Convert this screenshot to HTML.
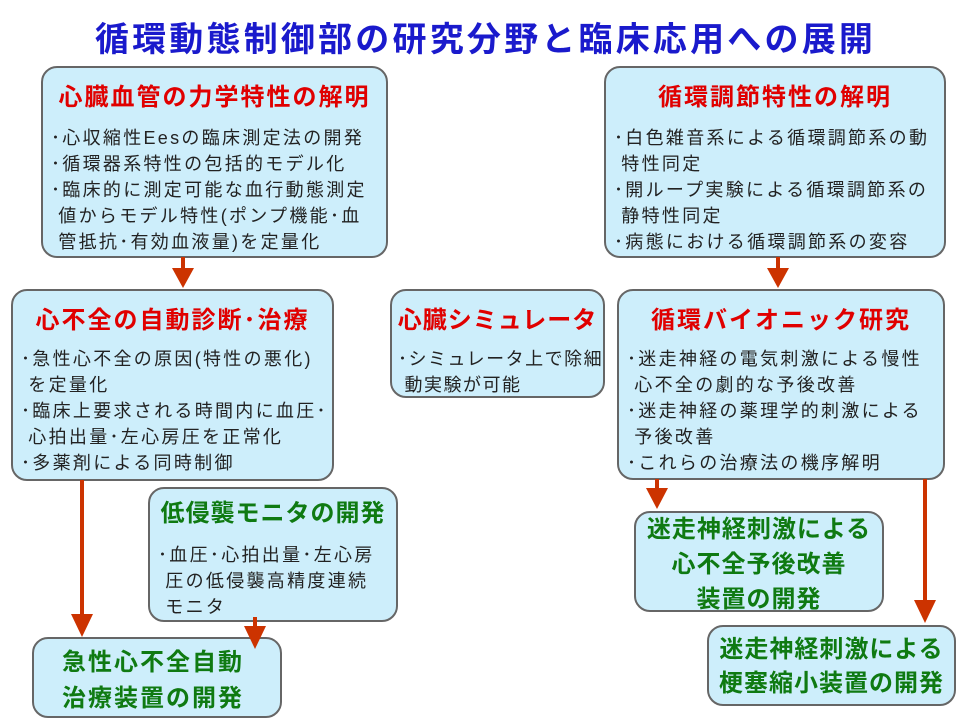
<!DOCTYPE html>
<html><head><meta charset="utf-8"><style>
body{margin:0;width:971px;height:728px;background:#fff;position:relative;overflow:hidden;font-family:"Liberation Sans","Noto Sans CJK JP",sans-serif;}
.t{position:absolute;left:0;width:971px;top:14px;text-align:center;color:#1a1acc;font-weight:bold;font-size:34px;line-height:52px;letter-spacing:3.2px;}
.b{position:absolute;background:#cdeefb;border:2px solid #666;border-radius:16px;box-sizing:border-box;}
.h{position:absolute;left:-20px;right:-20px;text-align:center;font-weight:bold;font-size:24px;line-height:30px;white-space:nowrap;letter-spacing:2px;}
.r{color:#e00000}.g{color:#0f7a12}
.p{position:absolute;font-size:18px;line-height:26px;color:#222;white-space:nowrap;letter-spacing:2.3px;}
.G{position:absolute;left:-20px;right:-20px;text-align:center;color:#0f7a12;font-weight:bold;font-size:24px;letter-spacing:2px;}
svg{position:absolute;left:0;top:0;}
</style></head><body>
<div class="t">循環動態制御部の研究分野と臨床応用への展開</div>

<div class="b" style="left:41px;top:66px;width:347px;height:192px">
<div class="h r" style="top:15px">心臓血管の力学特性の解明</div>
<div class="p" style="left:8px;top:57px">･心収縮性Eesの臨床測定法の開発<br>･循環器系特性の包括的モデル化<br>･臨床的に測定可能な血行動態測定<br>&nbsp;値からモデル特性(ポンプ機能･血<br>&nbsp;管抵抗･有効血液量)を定量化</div>
</div>

<div class="b" style="left:604px;top:66px;width:342px;height:192px">
<div class="h r" style="top:15px">循環調節特性の解明</div>
<div class="p" style="left:8px;top:57px">･白色雑音系による循環調節系の動<br>&nbsp;特性同定<br>･開ループ実験による循環調節系の<br>&nbsp;静特性同定<br>･病態における循環調節系の変容</div>
</div>

<div class="b" style="left:11px;top:289px;width:323px;height:192px">
<div class="h r" style="top:15px">心不全の自動診断･治療</div>
<div class="p" style="left:8px;top:55px">･急性心不全の原因(特性の悪化)<br>&nbsp;を定量化<br>･臨床上要求される時間内に血圧･<br>&nbsp;心拍出量･左心房圧を正常化<br>･多薬剤による同時制御</div>
</div>

<div class="b" style="left:390px;top:289px;width:215px;height:109px">
<div class="h r" style="top:15px;letter-spacing:1px">心臓シミュレータ</div>
<div class="p" style="left:6px;top:55px;letter-spacing:1.5px">･シミュレータ上で除細<br>&nbsp;動実験が可能</div>
</div>

<div class="b" style="left:617px;top:289px;width:328px;height:191px">
<div class="h r" style="top:15px">循環バイオニック研究</div>
<div class="p" style="left:8px;top:55px">･迷走神経の電気刺激による慢性<br>&nbsp;心不全の劇的な予後改善<br>･迷走神経の薬理学的刺激による<br>&nbsp;予後改善<br>･これらの治療法の機序解明</div>
</div>

<div class="b" style="left:148px;top:487px;width:250px;height:135px">
<div class="h g" style="top:10px;letter-spacing:1px">低侵襲モニタの開発</div>
<div class="p" style="left:8px;top:53px">･血圧･心拍出量･左心房<br>&nbsp;圧の低侵襲高精度連続<br>&nbsp;モニタ</div>
</div>

<div class="b" style="left:32px;top:637px;width:250px;height:81px">
<div class="G" style="top:6px;line-height:36px;left:-28px">急性心不全自動<br>治療装置の開発</div>
</div>

<div class="b" style="left:634px;top:511px;width:250px;height:101px">
<div class="G" style="top:-1px;line-height:35px;letter-spacing:1px">迷走神経刺激による<br>心不全予後改善<br>装置の開発</div>
</div>

<div class="b" style="left:707px;top:625px;width:249px;height:81px">
<div class="G" style="top:6px;line-height:34px;letter-spacing:1px">迷走神経刺激による<br>梗塞縮小装置の開発</div>
</div>

<svg width="971" height="728">
<g fill="#cc3300" stroke="none">
<rect x="181" y="257" width="4" height="12"/><polygon points="172,268 194,268 183,288"/>
<rect x="776" y="257" width="4" height="12"/><polygon points="767,268 789,268 778,288"/>
<rect x="80" y="480" width="4" height="135"/><polygon points="71,614 93,614 82,637"/>
<rect x="253" y="617" width="4" height="10"/><polygon points="244,626 266,626 255,649"/>
<rect x="655" y="479" width="4" height="10"/><polygon points="646,488 668,488 657,509"/>
<rect x="923" y="479" width="4" height="122"/><polygon points="914,600 936,600 925,623"/>
</g>
</svg>
</body></html>
